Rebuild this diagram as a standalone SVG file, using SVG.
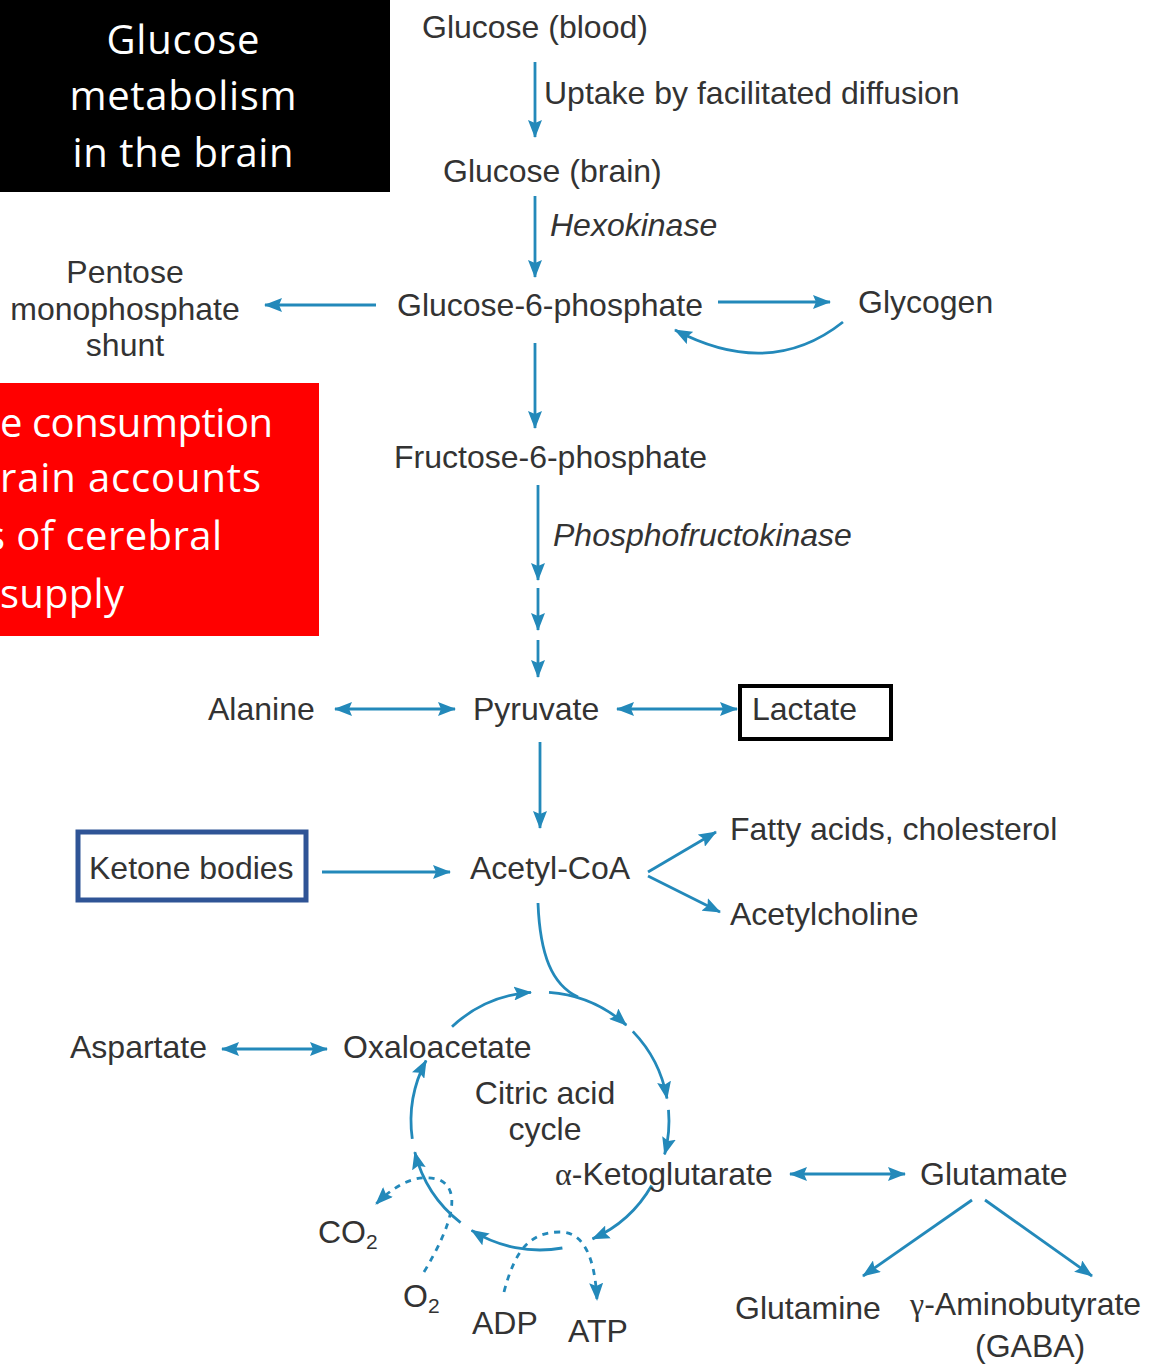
<svg xmlns="http://www.w3.org/2000/svg" width="1153" height="1369" viewBox="0 0 1153 1369">
<style>
.lbl{font-family:"Liberation Sans",Arial,sans-serif;font-size:32px;fill:#333333}
.it{font-style:italic}
.gr{font-family:"Liberation Serif","Times New Roman",serif}
.conn{stroke:#2389ba;stroke-width:2.8;fill:none}
.dash{stroke-dasharray:6 6}
.ttl{font-family:"Open Sans",Lato,sans-serif;font-size:40px;fill:#ffffff}
</style>
<defs>
<marker id="ah" viewBox="0 0 18 14" refX="17" refY="7" markerWidth="18" markerHeight="14" markerUnits="userSpaceOnUse" orient="auto-start-reverse">
<path d="M0,0 L18,7 L0,14 L3,7 z" fill="#2389ba"/>
</marker>
</defs>
<rect width="1153" height="1369" fill="#ffffff"/>

<g id="title">
<rect x="0" y="0" width="390" height="192" fill="#000000"/>
<text class="ttl" x="183" y="54" text-anchor="middle" textLength="153">Glucose</text>
<text class="ttl" x="183" y="110" text-anchor="middle" textLength="227">metabolism</text>
<text class="ttl" x="183" y="167" text-anchor="middle" textLength="221">in the brain</text>
</g>

<g id="note">
<rect x="0" y="383" width="319" height="253" fill="#ff0000"/>
<text class="ttl" x="0" y="437" textLength="273">e consumption</text>
<text class="ttl" x="0" y="492" textLength="261">rain accounts</text>
<text class="ttl" x="-14" y="550" textLength="236">s of cerebral</text>
<text class="ttl" x="0" y="608" textLength="124">supply</text>
</g>

<g id="connectors">
<path class="conn" d="M535,62 V137" marker-end="url(#ah)"/>
<path class="conn" d="M535,196 V277" marker-end="url(#ah)"/>
<path class="conn" d="M376,305 H265" marker-end="url(#ah)"/>
<path class="conn" d="M718,302 H830" marker-end="url(#ah)"/>
<path class="conn" d="M843,322 Q770,380 675,330" marker-end="url(#ah)"/>
<path class="conn" d="M535,343 V428" marker-end="url(#ah)"/>
<path class="conn" d="M538,485 V580" marker-end="url(#ah)"/>
<path class="conn" d="M538,588 V630" marker-end="url(#ah)"/>
<path class="conn" d="M538,640 V677" marker-end="url(#ah)"/>
<path class="conn" d="M335,709 H455" marker-start="url(#ah)" marker-end="url(#ah)"/>
<path class="conn" d="M617,709 H737" marker-start="url(#ah)" marker-end="url(#ah)"/>
<path class="conn" d="M540,742 V828" marker-end="url(#ah)"/>
<path class="conn" d="M322,872 H450" marker-end="url(#ah)"/>
<path class="conn" d="M648,872 L716,832" marker-end="url(#ah)"/>
<path class="conn" d="M648,876 L720,912" marker-end="url(#ah)"/>
<path class="conn" d="M538,903 C540,955 552,985 578,997"/>
<path class="conn" d="M452,1026.7 A129,129 0 0 1 531,992.3" marker-end="url(#ah)"/>
<path class="conn" d="M549,992.3 A129,129 0 0 1 626.3,1025.1" marker-end="url(#ah)"/>
<path class="conn" d="M632.8,1031.4 A129,129 0 0 1 667,1098.6" marker-end="url(#ah)"/>
<path class="conn" d="M668.5,1109.8 A129,129 0 0 1 664.6,1154.4" marker-end="url(#ah)"/>
<path class="conn" d="M651.7,1185.5 A129,129 0 0 1 592.5,1238.9" marker-end="url(#ah)"/>
<path class="conn" d="M562.4,1248 A129,129 0 0 1 471.6,1230.4" marker-end="url(#ah)"/>
<path class="conn" d="M460.6,1222.7 A129,129 0 0 1 414.8,1152.2" marker-end="url(#ah)"/>
<path class="conn" d="M412.3,1138.9 A129,129 0 0 1 426.1,1060.5" marker-end="url(#ah)"/>
<path class="conn dash" d="M424,1272 Q470,1195 440,1180 Q410,1170 376,1204" marker-end="url(#ah)"/>
<path class="conn dash" d="M504,1292 C515,1250 530,1232 560,1232 C585,1232 595,1260 597,1300" marker-end="url(#ah)"/>
<path class="conn" d="M222,1049 H327" marker-start="url(#ah)" marker-end="url(#ah)"/>
<path class="conn" d="M790,1174 H905" marker-start="url(#ah)" marker-end="url(#ah)"/>
<path class="conn" d="M972,1200 L863,1276" marker-end="url(#ah)"/>
<path class="conn" d="M985,1200 L1092,1276" marker-end="url(#ah)"/>
</g>

<g id="glucose-blood"><text class="lbl" x="422" y="38">Glucose (blood)</text></g>
<g id="uptake"><text class="lbl" x="544" y="104">Uptake by facilitated diffusion</text></g>
<g id="glucose-brain"><text class="lbl" x="443" y="182">Glucose (brain)</text></g>
<g id="hexokinase"><text class="lbl it" x="550" y="236">Hexokinase</text></g>
<g id="g6p"><text class="lbl" x="397" y="316">Glucose-6-phosphate</text></g>
<g id="pentose">
<text class="lbl" x="125" y="283" text-anchor="middle">Pentose</text>
<text class="lbl" x="125" y="320" text-anchor="middle">monophosphate</text>
<text class="lbl" x="125" y="356" text-anchor="middle">shunt</text>
</g>
<g id="glycogen"><text class="lbl" x="858" y="313">Glycogen</text></g>
<g id="f6p"><text class="lbl" x="394" y="468">Fructose-6-phosphate</text></g>
<g id="pfk"><text class="lbl it" x="553" y="546">Phosphofructokinase</text></g>
<g id="alanine"><text class="lbl" x="208" y="720">Alanine</text></g>
<g id="pyruvate"><text class="lbl" x="473" y="720">Pyruvate</text></g>
<g id="lactate">
<rect x="740" y="686" width="151" height="53" fill="none" stroke="#000000" stroke-width="4"/>
<text class="lbl" x="752" y="720">Lactate</text>
</g>
<g id="ketone">
<rect x="78" y="832" width="228" height="68" fill="none" stroke="#2f5496" stroke-width="5"/>
<text class="lbl" x="89" y="879">Ketone bodies</text>
</g>
<g id="acetylcoa"><text class="lbl" x="470" y="879">Acetyl-CoA</text></g>
<g id="fatty"><text class="lbl" x="730" y="840">Fatty acids, cholesterol</text></g>
<g id="acetylcholine"><text class="lbl" x="730" y="925">Acetylcholine</text></g>
<g id="aspartate"><text class="lbl" x="70" y="1058">Aspartate</text></g>
<g id="oxaloacetate"><text class="lbl" x="343" y="1058">Oxaloacetate</text></g>
<g id="cycle">
<text class="lbl" x="545" y="1104" text-anchor="middle">Citric acid</text>
<text class="lbl" x="545" y="1140" text-anchor="middle">cycle</text>
</g>
<g id="akg"><text class="lbl" x="555" y="1185"><tspan class="gr">α</tspan>-Ketoglutarate</text></g>
<g id="glutamate"><text class="lbl" x="920" y="1185">Glutamate</text></g>
<g id="glutamine"><text class="lbl" x="735" y="1319">Glutamine</text></g>
<g id="gaba">
<text class="lbl" x="910" y="1315"><tspan class="gr">γ</tspan>-Aminobutyrate</text>
<text class="lbl" x="975" y="1357">(GABA)</text>
</g>
<g id="co2"><text class="lbl" x="318" y="1243">CO<tspan font-size="21" dy="6">2</tspan></text></g>
<g id="o2"><text class="lbl" x="403" y="1307">O<tspan font-size="21" dy="6">2</tspan></text></g>
<g id="adp"><text class="lbl" x="472" y="1334">ADP</text></g>
<g id="atp"><text class="lbl" x="568" y="1342">ATP</text></g>
</svg>
